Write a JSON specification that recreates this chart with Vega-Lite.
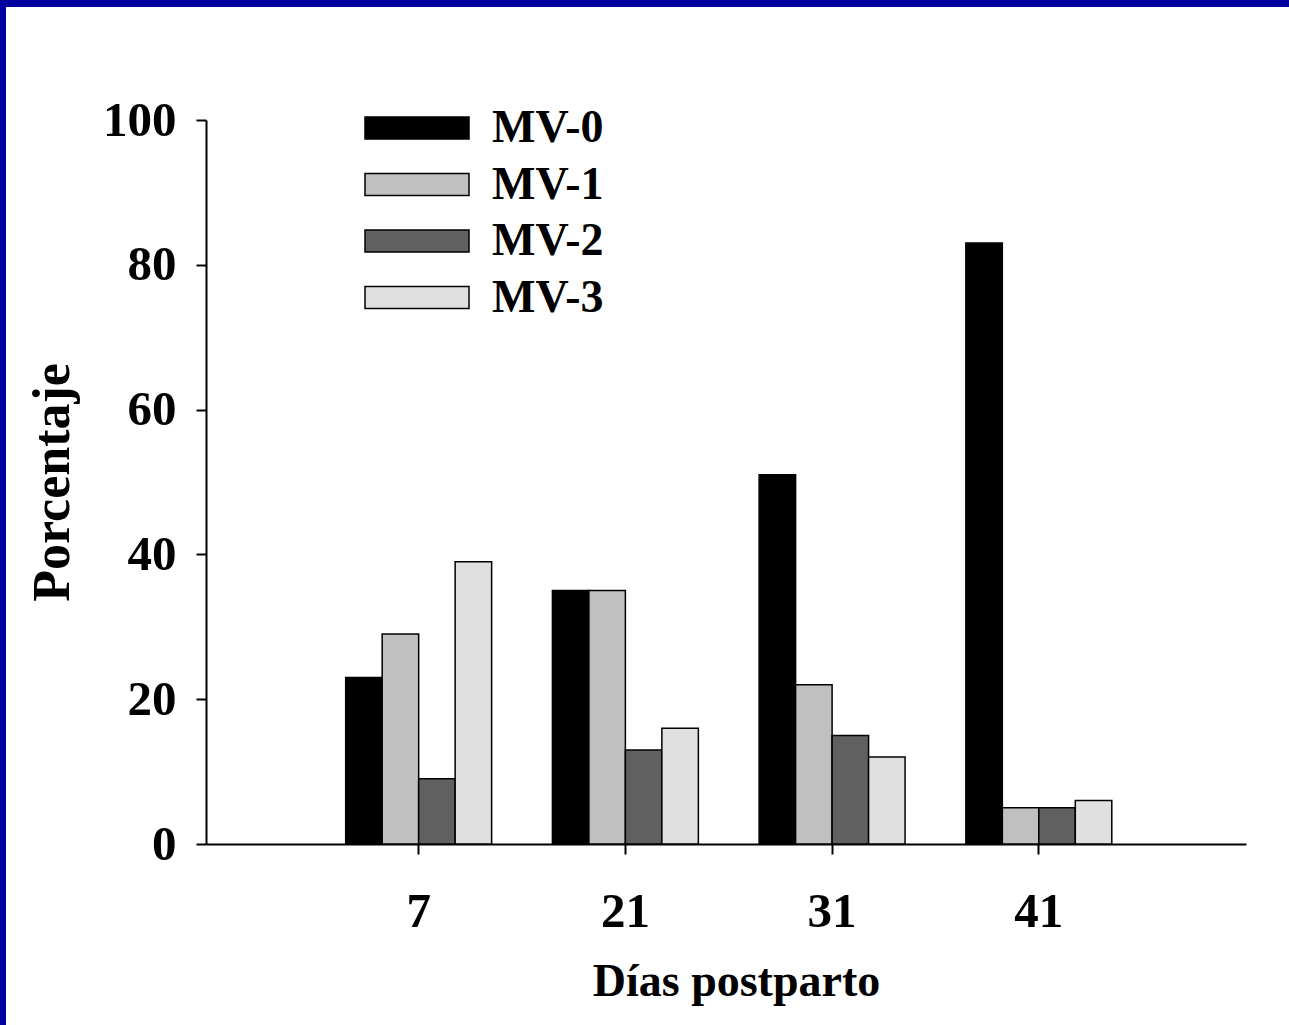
{
  "$schema": "https://vega.github.io/schema/vega-lite/v6.json",
  "autosize": {"type": "none"},
  "padding": {"left": 119, "top": 120, "right": 0, "bottom": 0},
  "width": 1170,
  "height": 905,
  "background": "#0000A0",
  "config": {
    "view": {"stroke": "white", "strokeWidth": 226, "fill": "white"},
    "font": "Liberation Serif",
    "axis": {"grid": false, "domainColor": "black", "domainWidth": 2, "tickColor": "black", "tickWidth": 2, "tickSize": 10, "labelColor": "black", "titleColor": "black", "labelFont": "Liberation Serif", "titleFont": "Liberation Serif", "labelFontWeight": "bold", "titleFontWeight": "bold", "labelFontSize": 49, "titleFontSize": 46}
  },
  "data": {
    "values": [
      {"dia": "7", "serie": "MV-0", "pct": 23},
      {"dia": "7", "serie": "MV-1", "pct": 29},
      {"dia": "7", "serie": "MV-2", "pct": 9},
      {"dia": "7", "serie": "MV-3", "pct": 39},
      {"dia": "21", "serie": "MV-0", "pct": 35},
      {"dia": "21", "serie": "MV-1", "pct": 35},
      {"dia": "21", "serie": "MV-2", "pct": 13},
      {"dia": "21", "serie": "MV-3", "pct": 16},
      {"dia": "31", "serie": "MV-0", "pct": 51},
      {"dia": "31", "serie": "MV-1", "pct": 22},
      {"dia": "31", "serie": "MV-2", "pct": 15},
      {"dia": "31", "serie": "MV-3", "pct": 12},
      {"dia": "41", "serie": "MV-0", "pct": 83},
      {"dia": "41", "serie": "MV-1", "pct": 5},
      {"dia": "41", "serie": "MV-2", "pct": 5},
      {"dia": "41", "serie": "MV-3", "pct": 6}
    ]
  },
  "mark": {"type": "bar", "stroke": "black", "strokeWidth": 1.5, "opacity": 1},
  "encoding": {
    "x": {
      "field": "dia", "type": "ordinal", "sort": ["7", "21", "31", "41"],
      "scale": {"range": [87, 1127], "paddingInner": 0.294, "paddingOuter": 0.6625, "align": 0.51},
      "axis": {"title": "Días postparto", "titleX": 617, "labelAngle": 0, "offset": -181, "labelPadding": 33, "titlePadding": 23}
    },
    "xOffset": {"field": "serie", "type": "nominal", "sort": ["MV-0", "MV-1", "MV-2", "MV-3"], "scale": {"paddingInner": 0, "paddingOuter": 0}},
    "y": {
      "field": "pct", "type": "quantitative",
      "scale": {"domain": [0, 100], "range": [724, 0], "nice": false},
      "axis": {"title": "Porcentaje", "titleFontSize": 52, "values": [0, 20, 40, 60, 80, 100], "offset": -87, "labelPadding": 20, "titlePadding": 23}
    },
    "color": {
      "field": "serie", "type": "nominal",
      "scale": {"domain": ["MV-0", "MV-1", "MV-2", "MV-3"], "range": ["#000000", "#c0c0c0", "#606060", "#e0e0e0"]},
      "legend": {
        "title": null, "orient": "none", "legendX": 271, "legendY": -19, "padding": 0,
        "symbolType": "M-2,-0.423H2V0.423H-2Z", "symbolSize": 2704,
        "symbolStrokeColor": "black", "symbolStrokeWidth": 1.5, "symbolOpacity": 1,
        "labelFont": "Liberation Serif", "labelFontWeight": "bold", "labelFontSize": 46, "labelColor": "black",
        "labelOffset": 48, "rowPadding": 6.5
      }
    }
  }
}
